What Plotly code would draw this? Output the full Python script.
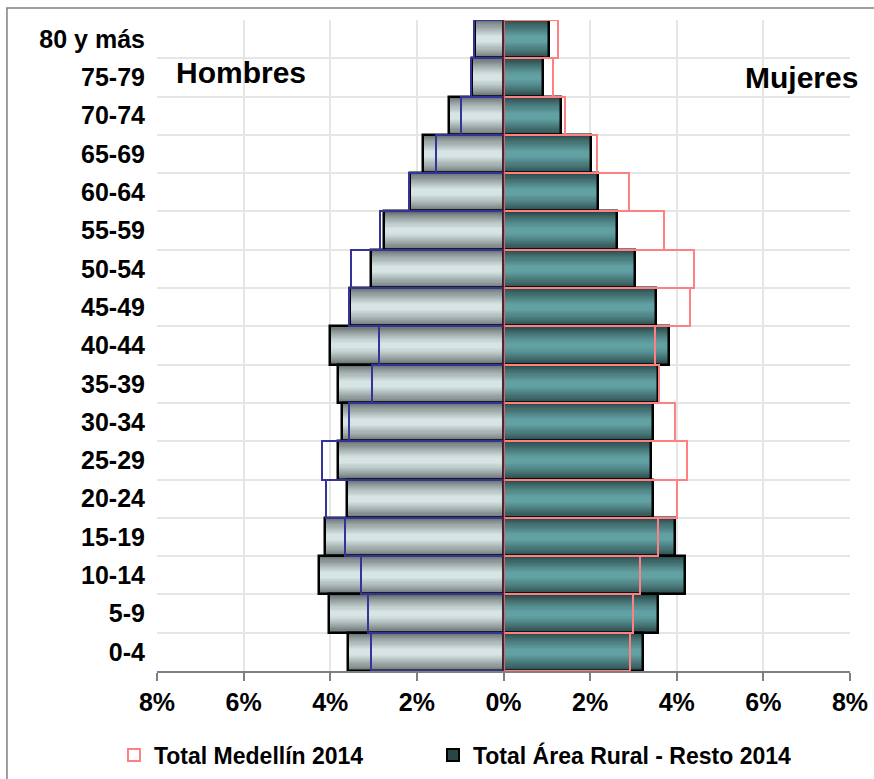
import plotly.graph_objects as go

age_groups = ["0-4", "5-9", "10-14", "15-19", "20-24", "25-29", "30-34", "35-39",
              "40-44", "45-49", "50-54", "55-59", "60-64", "65-69", "70-74", "75-79", "80 y más"]
rural_men = [3.58, 4.02, 4.25, 4.13, 3.61, 3.82, 3.72, 3.81, 4.00, 3.55, 3.05, 2.77, 2.17, 1.87, 1.25, 0.72, 0.65]
rural_women = [3.21, 3.56, 4.18, 3.95, 3.46, 3.40, 3.44, 3.56, 3.81, 3.53, 3.03, 2.61, 2.19, 2.01, 1.32, 0.92, 1.04]
medellin_men = [3.05, 3.12, 3.30, 3.67, 4.09, 4.18, 3.57, 3.04, 2.88, 3.56, 3.51, 2.86, 2.19, 1.57, 0.97, 0.74, 0.69]
medellin_women = [2.93, 3.00, 3.16, 3.56, 4.00, 4.23, 3.97, 3.58, 3.49, 4.30, 4.39, 3.70, 2.89, 2.15, 1.41, 1.15, 1.25]
x_ticks = [-8, -6, -4, -2, 0, 2, 4, 6, 8]
x_tick_labels = ["8%", "6%", "4%", "2%", "0%", "2%", "4%", "6%", "8%"]

FONT = "Liberation Sans, Arial, sans-serif"

def mix(c1, c2, t):
    a = [int(c1[i:i + 2], 16) for i in (1, 3, 5)]
    b = [int(c2[i:i + 2], 16) for i in (1, 3, 5)]
    return "rgb(%d,%d,%d)" % tuple(round(a[k] + (b[k] - a[k]) * t) for k in range(3))

men_x = [-v for v in rural_men]
med_men_x = [-v for v in medellin_men]

fig = go.Figure()

# gradient (cylinder) effect for the rural bars via stacked overlay layers
N = 16
for i in range(N):
    w = 1.0 - i * (0.85 / (N - 1))
    t = (i / (N - 1)) ** 0.8
    fig.add_trace(go.Bar(
        y=age_groups, x=men_x, orientation="h", width=w,
        marker=dict(color=mix("#656d6d", "#d6e4e4", t), line=dict(width=0)),
        showlegend=False, hoverinfo="skip"))
    fig.add_trace(go.Bar(
        y=age_groups, x=rural_women, orientation="h", width=w,
        name="Total Área Rural - Resto 2014", legend="legend2",
        marker=dict(color=mix("#2a4545", "#61a1a3", t),
                    line=dict(width=2 if i == 0 else 0, color="black")),
        showlegend=(i == 0), hoverinfo="skip"))

# rural outlines
for xs in (men_x, rural_women):
    fig.add_trace(go.Bar(
        y=age_groups, x=xs, orientation="h", width=1.0,
        marker=dict(color="rgba(0,0,0,0)", line=dict(width=2.5, color="black")),
        showlegend=False, hoverinfo="skip"))

# Medellín outlines
fig.add_trace(go.Bar(
    y=age_groups, x=med_men_x, orientation="h", width=1.0,
    marker=dict(color="rgba(0,0,0,0)", line=dict(width=2, color="#333399")),
    showlegend=False, hoverinfo="skip"))
fig.add_trace(go.Bar(
    y=age_groups, x=medellin_women, orientation="h", width=1.0,
    name="Total Medellín 2014", legend="legend",
    marker=dict(color="rgba(255,255,255,0)", line=dict(width=2, color="#ff8080")),
    showlegend=True, hoverinfo="skip"))

legend_font = dict(family=FONT, size=23, weight="bold", color="black")

fig.update_layout(
    width=874, height=779,
    margin=dict(l=157, r=24, t=20, b=108, autoexpand=False),
    barmode="overlay", bargap=0,
    paper_bgcolor="white", plot_bgcolor="white",
    font=dict(family=FONT, color="black", size=22, weight="bold"),
    legend=dict(orientation="h", xref="container", yref="container",
                x=0.1304, y=0.0308, xanchor="left", yanchor="middle",
                font=legend_font, bgcolor="rgba(0,0,0,0)"),
    legend2=dict(orientation="h", xref="container", yref="container",
                 x=0.4954, y=0.0308, xanchor="left", yanchor="middle",
                 font=legend_font, bgcolor="rgba(0,0,0,0)"),
    xaxis=dict(range=[-8, 8], tickvals=x_ticks, ticktext=x_tick_labels,
               showgrid=True, gridcolor="#e6e6e6", gridwidth=2,
               zeroline=False, showline=True, linecolor="#7f7f7f", linewidth=2,
               ticks="outside", ticklen=8, tickwidth=2, tickcolor="#7f7f7f",
               ticklabeloverflow="allow", automargin=False,
               tickfont=dict(family=FONT, size=25, weight="bold", color="black"),
               fixedrange=True),
    yaxis=dict(type="category", categoryorder="array", categoryarray=age_groups,
               range=[-0.5, len(age_groups) - 0.5], automargin=False,
               tickson="boundaries", showgrid=True, gridcolor="#e6e6e6", gridwidth=2,
               ticks="", ticklabelstandoff=11, showline=False, zeroline=False,
               tickfont=dict(family=FONT, size=25, weight="bold", color="black"),
               fixedrange=True),
    shapes=[
        dict(type="line", xref="x", yref="paper", x0=0, x1=0, y0=0, y1=1,
             line=dict(color="#5a1f33", width=1.5), layer="above"),
        dict(type="rect", xref="paper", yref="paper", x0=-0.2165, x1=1.06, y0=-0.2, y1=1.0184,
             line=dict(color="#7f7f7f", width=1.5), fillcolor="rgba(0,0,0,0)", layer="below"),
    ],
    annotations=[
        dict(text="Hombres", xref="x", yref="paper", x=-6.06, y=0.920, showarrow=False,
             xanchor="center", yanchor="middle",
             font=dict(family=FONT, size=30, weight="bold", color="black")),
        dict(text="Mujeres", xref="x", yref="paper", x=6.89, y=0.911, showarrow=False,
             xanchor="center", yanchor="middle",
             font=dict(family=FONT, size=30, weight="bold", color="black")),
    ],
)

fig.write_html("out.html",
               config={"displayModeBar": False, "staticPlot": False},
               post_script="document.body.style.margin='0px';document.body.style.overflow='hidden';")
